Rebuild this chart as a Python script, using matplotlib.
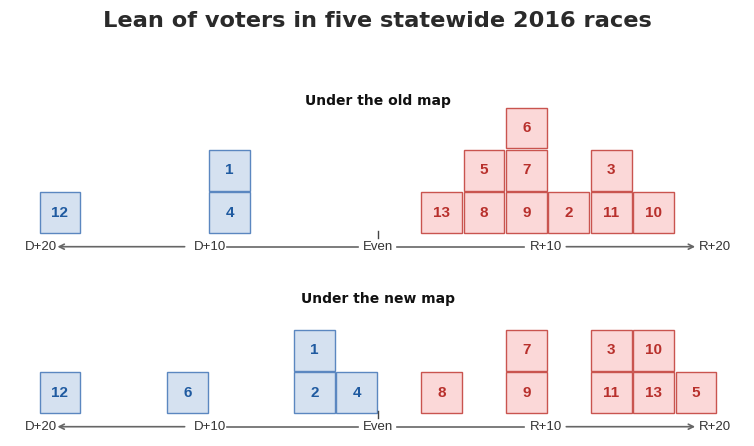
import matplotlib.pyplot as plt
from matplotlib.patches import Rectangle

# districts and their lean (points, negative = D, positive = R), stacked bottom-up in list order
old_districts = [12, 4, 1, 13, 8, 5, 9, 7, 6, 2, 11, 3, 10]
old_lean = [-18.75, -8.75, -8.75, 3.75, 6.25, 6.25, 8.75, 8.75, 8.75, 11.25, 13.75, 13.75, 16.25]

new_districts = [12, 6, 2, 1, 4, 8, 9, 7, 11, 3, 13, 10, 5]
new_lean = [-18.75, -11.25, -3.75, -3.75, -1.25, 3.75, 8.75, 8.75, 13.75, 13.75, 16.25, 16.25, 18.75]

tick_vals = [-20, -10, 0, 10, 20]
tick_labels = ['D+20', 'D+10', 'Even', 'R+10', 'R+20']

plt.rcParams['font.family'] = ['Liberation Sans', 'DejaVu Sans']

W, H = 754, 446
px_per_pt = 16.96      # horizontal pixels per point of lean
row_px = 42.4          # vertical pixels per stack row
x0 = 378               # pixel position of "Even"

fig = plt.figure(figsize=(W / 100, H / 100), dpi=100)
ax = fig.add_axes([0, 0, 1, 1])
ax.set_xlim(-x0 / px_per_pt, (W - x0) / px_per_pt)
ax.set_ylim(0, H / row_px)
ax.axis('off')

blue_fill, blue_edge, blue_text = '#d5e1f0', '#5b87c0', '#1f5aa0'
red_fill, red_edge, red_text = '#fbd8d8', '#c9544f', '#b8302c'
line_col = '#666666'


def draw_panel(districts, lean, base, title, title_off):
    counts = {}
    for d, x in zip(districts, lean):
        row = counts.get(x, 0)
        counts[x] = row + 1
        y = base + 0.32 + row
        if x < 0:
            fc, ec, tc = blue_fill, blue_edge, blue_text
        else:
            fc, ec, tc = red_fill, red_edge, red_text
        ax.add_patch(Rectangle((x - 1.2, y), 2.4, 0.96, facecolor=fc,
                               edgecolor=ec, lw=1.0))
        ax.text(x, y + 0.48, str(d), ha='center', va='center', fontsize=11,
                fontweight='bold', color=tc)

    # axis with arrows and labels
    arrow = dict(arrowstyle='->', color=line_col, lw=1.2, shrinkA=0,
                 shrinkB=0, mutation_scale=9)
    ax.annotate('', xy=(-18.9, base), xytext=(-11.4, base), arrowprops=arrow)
    ax.plot([-8.9, -1.2], [base, base], color=line_col, lw=1.2)
    ax.plot([1.1, 8.6], [base, base], color=line_col, lw=1.2)
    ax.annotate('', xy=(18.7, base), xytext=(11.1, base), arrowprops=arrow)
    ax.plot([0, 0], [base + 0.2, base + 0.38], color='#444444', lw=1.0)
    for v, lab in zip(tick_vals, tick_labels):
        ax.text(v * 0.993, base, lab, ha='center', va='center', fontsize=9.5,
                color='#333333')
    ax.text(0, base + title_off, title, ha='center', va='center',
            fontsize=10, fontweight='bold', color='#111111',
            family='DejaVu Sans')


draw_panel(old_districts, old_lean, (H - 246.7) / row_px, 'Under the old map', 3.43)
draw_panel(new_districts, new_lean, (H - 426.7) / row_px, 'Under the new map', 3.01)

fig.text(0.5, 1 - 21 / H, 'Lean of voters in five statewide 2016 races',
         ha='center', va='center', fontsize=16.2, fontweight='bold',
         color='#2a2a2a', family='DejaVu Sans')

plt.savefig('out.png', dpi=100)
